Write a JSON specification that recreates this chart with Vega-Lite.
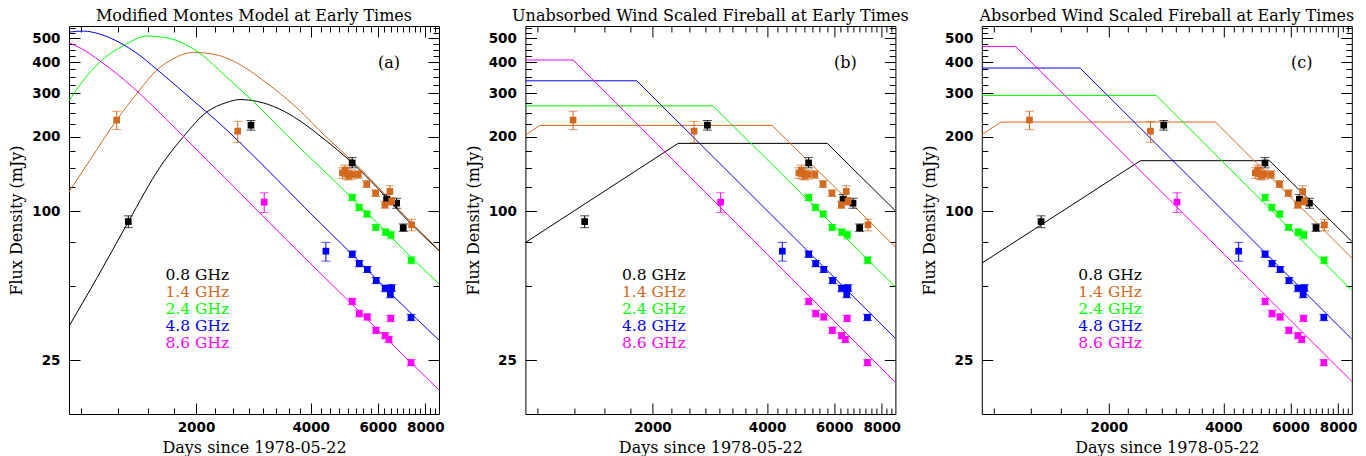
{
"$schema": "https://vega.github.io/schema/vega-lite/v6.json",
"background": "white",
"padding": {"left": 8, "top": 8, "right": 5, "bottom": 0},
"config": {
 "view": {"stroke": null},
 "axis": {"grid": false, "domainColor": "#000", "domainWidth": 1, "tickColor": "#000", "tickWidth": 1, "labelColor": "#000", "labelFont": "DejaVu Sans", "labelFontSize": 13.5, "labelFontWeight": "bold", "titleColor": "#000", "titleFont": "DejaVu Serif", "titleFontSize": 16, "titleFontWeight": "normal", "labelOverlap": false, "labelFlush": false},
 "title": {"font": "DejaVu Serif", "fontSize": 16, "fontWeight": "normal", "color": "#000", "offset": -3, "anchor": "middle"}
},
"datasets": {
 "models": [
  {"model":"a","freq":"0.8 GHz","day":928,"flux":34.4},{"model":"a","freq":"0.8 GHz","day":1100,"flux":54},{"model":"a","freq":"0.8 GHz","day":1328,"flux":90.8},{"model":"a","freq":"0.8 GHz","day":1609,"flux":151},{"model":"a","freq":"0.8 GHz","day":1851,"flux":200},{"model":"a","freq":"0.8 GHz","day":2134,"flux":252},{"model":"a","freq":"0.8 GHz","day":2400,"flux":275},{"model":"a","freq":"0.8 GHz","day":2609,"flux":283},{"model":"a","freq":"0.8 GHz","day":2900,"flux":278},{"model":"a","freq":"0.8 GHz","day":3300,"flux":260},{"model":"a","freq":"0.8 GHz","day":3751,"flux":232},{"model":"a","freq":"0.8 GHz","day":4300,"flux":198},{"model":"a","freq":"0.8 GHz","day":5144,"flux":157},{"model":"a","freq":"0.8 GHz","day":6000,"flux":124},{"model":"a","freq":"0.8 GHz","day":7000,"flux":96},{"model":"a","freq":"0.8 GHz","day":8690,"flux":69.5},
  {"model":"a","freq":"1.4 GHz","day":928,"flux":120},{"model":"a","freq":"1.4 GHz","day":1050,"flux":160},{"model":"a","freq":"1.4 GHz","day":1238,"flux":234},{"model":"a","freq":"1.4 GHz","day":1400,"flux":300},{"model":"a","freq":"1.4 GHz","day":1577,"flux":372},{"model":"a","freq":"1.4 GHz","day":1750,"flux":415},{"model":"a","freq":"1.4 GHz","day":1968,"flux":439},{"model":"a","freq":"1.4 GHz","day":2250,"flux":430},{"model":"a","freq":"1.4 GHz","day":2506,"flux":405},{"model":"a","freq":"1.4 GHz","day":3066,"flux":330},{"model":"a","freq":"1.4 GHz","day":3751,"flux":255},{"model":"a","freq":"1.4 GHz","day":4360,"flux":202},{"model":"a","freq":"1.4 GHz","day":5144,"flux":160},{"model":"a","freq":"1.4 GHz","day":6000,"flux":126},{"model":"a","freq":"1.4 GHz","day":7000,"flux":97.5},{"model":"a","freq":"1.4 GHz","day":8690,"flux":70},
  {"model":"a","freq":"2.4 GHz","day":928,"flux":279},{"model":"a","freq":"2.4 GHz","day":1000,"flux":330},{"model":"a","freq":"2.4 GHz","day":1120,"flux":402},{"model":"a","freq":"2.4 GHz","day":1300,"flux":470},{"model":"a","freq":"2.4 GHz","day":1485,"flux":511},{"model":"a","freq":"2.4 GHz","day":1700,"flux":500},{"model":"a","freq":"2.4 GHz","day":2049,"flux":435},{"model":"a","freq":"2.4 GHz","day":2400,"flux":350},{"model":"a","freq":"2.4 GHz","day":2800,"flux":282},{"model":"a","freq":"2.4 GHz","day":3500,"flux":200},{"model":"a","freq":"2.4 GHz","day":4500,"flux":138},{"model":"a","freq":"2.4 GHz","day":5144,"flux":113},{"model":"a","freq":"2.4 GHz","day":6000,"flux":89.5},{"model":"a","freq":"2.4 GHz","day":7000,"flux":70.3},{"model":"a","freq":"2.4 GHz","day":8690,"flux":51},
  {"model":"a","freq":"4.8 GHz","day":928,"flux":530},{"model":"a","freq":"4.8 GHz","day":1012,"flux":535},{"model":"a","freq":"4.8 GHz","day":1120,"flux":520},{"model":"a","freq":"4.8 GHz","day":1263,"flux":480},{"model":"a","freq":"4.8 GHz","day":1400,"flux":435},{"model":"a","freq":"4.8 GHz","day":1577,"flux":375},{"model":"a","freq":"4.8 GHz","day":1968,"flux":280},{"model":"a","freq":"4.8 GHz","day":2311,"flux":226},{"model":"a","freq":"4.8 GHz","day":2944,"flux":158},{"model":"a","freq":"4.8 GHz","day":4000,"flux":98},{"model":"a","freq":"4.8 GHz","day":5144,"flux":67},{"model":"a","freq":"4.8 GHz","day":6500,"flux":46.5},{"model":"a","freq":"4.8 GHz","day":8690,"flux":30.2},
  {"model":"a","freq":"8.6 GHz","day":928,"flux":480},{"model":"a","freq":"8.6 GHz","day":1000,"flux":455},{"model":"a","freq":"8.6 GHz","day":1120,"flux":405},{"model":"a","freq":"8.6 GHz","day":1369,"flux":316},{"model":"a","freq":"8.6 GHz","day":1675,"flux":235},{"model":"a","freq":"8.6 GHz","day":2049,"flux":172},{"model":"a","freq":"8.6 GHz","day":2500,"flux":127},{"model":"a","freq":"8.6 GHz","day":2932,"flux":99},{"model":"a","freq":"8.6 GHz","day":4000,"flux":61.5},{"model":"a","freq":"8.6 GHz","day":5500,"flux":38},{"model":"a","freq":"8.6 GHz","day":7000,"flux":26.3},{"model":"a","freq":"8.6 GHz","day":8690,"flux":19},
  {"model":"b","freq":"0.8 GHz","day":928,"flux":74.9},{"model":"b","freq":"0.8 GHz","day":2336,"flux":188.3},{"model":"b","freq":"0.8 GHz","day":5756,"flux":188.3},{"model":"b","freq":"0.8 GHz","day":8690,"flux":100.6},
  {"model":"b","freq":"1.4 GHz","day":928,"flux":203.3},{"model":"b","freq":"1.4 GHz","day":1013,"flux":222.6},{"model":"b","freq":"1.4 GHz","day":4121,"flux":222.6},{"model":"b","freq":"1.4 GHz","day":8690,"flux":71.9},
  {"model":"b","freq":"2.4 GHz","day":928,"flux":267},{"model":"b","freq":"2.4 GHz","day":2884,"flux":267},{"model":"b","freq":"2.4 GHz","day":8690,"flux":49.6},
  {"model":"b","freq":"4.8 GHz","day":928,"flux":337},{"model":"b","freq":"4.8 GHz","day":1820,"flux":337},{"model":"b","freq":"4.8 GHz","day":8690,"flux":30.7},
  {"model":"b","freq":"8.6 GHz","day":928,"flux":409},{"model":"b","freq":"8.6 GHz","day":1238,"flux":409},{"model":"b","freq":"8.6 GHz","day":8690,"flux":20.4},
  {"model":"c","freq":"0.8 GHz","day":928,"flux":61.8},{"model":"c","freq":"0.8 GHz","day":2421,"flux":160.3},{"model":"c","freq":"0.8 GHz","day":5283,"flux":160.3},{"model":"c","freq":"0.8 GHz","day":8690,"flux":75.7},
  {"model":"c","freq":"1.4 GHz","day":928,"flux":204.1},{"model":"c","freq":"1.4 GHz","day":1043,"flux":229.6},{"model":"c","freq":"1.4 GHz","day":3811,"flux":229.6},{"model":"c","freq":"1.4 GHz","day":8690,"flux":64.8},
  {"model":"c","freq":"2.4 GHz","day":928,"flux":294.2},{"model":"c","freq":"2.4 GHz","day":2662,"flux":294.2},{"model":"c","freq":"2.4 GHz","day":8690,"flux":48},
  {"model":"c","freq":"4.8 GHz","day":928,"flux":379.4},{"model":"c","freq":"4.8 GHz","day":1682,"flux":379.4},{"model":"c","freq":"4.8 GHz","day":8690,"flux":30.5},
  {"model":"c","freq":"8.6 GHz","day":928,"flux":464},{"model":"c","freq":"8.6 GHz","day":1138,"flux":464},{"model":"c","freq":"8.6 GHz","day":8690,"flux":20.6}
 ],
 "obs": [
  {"freq":"0.8 GHz","day":1328,"flux":91,"lo":86,"hi":96},{"freq":"0.8 GHz","day":2788,"flux":223,"lo":213,"hi":233},{"freq":"0.8 GHz","day":5142,"flux":157,"lo":150,"hi":165},{"freq":"0.8 GHz","day":6330,"flux":112,"lo":107,"hi":117},{"freq":"0.8 GHz","day":6726,"flux":108,"lo":103,"hi":113},{"freq":"0.8 GHz","day":7000,"flux":86,"lo":83,"hi":89},
  {"freq":"1.4 GHz","day":1238,"flux":234,"lo":214,"hi":254},{"freq":"1.4 GHz","day":2573,"flux":211,"lo":190,"hi":231},{"freq":"1.4 GHz","day":4850,"flux":143,"lo":136,"hi":150},{"freq":"1.4 GHz","day":4921,"flux":147,"lo":140,"hi":154},{"freq":"1.4 GHz","day":4972,"flux":142,"lo":135,"hi":149},{"freq":"1.4 GHz","day":5023,"flux":140,"lo":134,"hi":146},{"freq":"1.4 GHz","day":5124,"flux":141,"lo":135,"hi":147},{"freq":"1.4 GHz","day":5336,"flux":141,"lo":136,"hi":146},{"freq":"1.4 GHz","day":5611,"flux":129,"lo":125,"hi":133},{"freq":"1.4 GHz","day":5923,"flux":118.6,"lo":115,"hi":122},{"freq":"1.4 GHz","day":6268,"flux":106.4,"lo":103,"hi":110},{"freq":"1.4 GHz","day":6457,"flux":120.4,"lo":114,"hi":127},{"freq":"1.4 GHz","day":6527,"flux":109.7,"lo":106,"hi":113.5},{"freq":"1.4 GHz","day":7364,"flux":88.3,"lo":83.5,"hi":93},
  {"freq":"2.4 GHz","day":5144,"flux":113.9,"lo":110.5,"hi":117.3},{"freq":"2.4 GHz","day":5360,"flux":103.8,"lo":100.7,"hi":106.9},{"freq":"2.4 GHz","day":5620,"flux":97.6,"lo":94.9,"hi":100.3},{"freq":"2.4 GHz","day":5930,"flux":86.2,"lo":83.8,"hi":88.6},{"freq":"2.4 GHz","day":6290,"flux":82.5,"lo":80,"hi":85},{"freq":"2.4 GHz","day":6500,"flux":80.4,"lo":77.5,"hi":83.3},{"freq":"2.4 GHz","day":7350,"flux":63.5,"lo":61.5,"hi":65.5},
  {"freq":"4.8 GHz","day":4386,"flux":69.1,"lo":63,"hi":75},{"freq":"4.8 GHz","day":5144,"flux":67.2,"lo":65.2,"hi":69.2},{"freq":"4.8 GHz","day":5366,"flux":61.6,"lo":59.8,"hi":63.4},{"freq":"4.8 GHz","day":5634,"flux":58.3,"lo":56.7,"hi":59.9},{"freq":"4.8 GHz","day":5945,"flux":52.6,"lo":51.1,"hi":54.1},{"freq":"4.8 GHz","day":6276,"flux":48.9,"lo":47.4,"hi":50.4},{"freq":"4.8 GHz","day":6525,"flux":49.1,"lo":47.6,"hi":50.6},{"freq":"4.8 GHz","day":6475,"flux":46.2,"lo":44.8,"hi":47.6},{"freq":"4.8 GHz","day":7338,"flux":37.3,"lo":36.2,"hi":38.4},
  {"freq":"8.6 GHz","day":3021,"flux":109,"lo":99,"hi":119},{"freq":"8.6 GHz","day":5144,"flux":43.3,"lo":42,"hi":44.6},{"freq":"8.6 GHz","day":5366,"flux":38.7,"lo":37.5,"hi":39.9},{"freq":"8.6 GHz","day":5634,"flux":37.5,"lo":36.4,"hi":38.6},{"freq":"8.6 GHz","day":5937,"flux":33.1,"lo":32.1,"hi":34.1},{"freq":"8.6 GHz","day":6276,"flux":31.5,"lo":30.6,"hi":32.4},{"freq":"8.6 GHz","day":6420,"flux":30.4,"lo":29.5,"hi":31.3},{"freq":"8.6 GHz","day":6490,"flux":37,"lo":35.9,"hi":38.1},{"freq":"8.6 GHz","day":7338,"flux":24.5,"lo":23.8,"hi":25.2}
 ]
},
"spacing": 86.4,
"bounds": "flush",
"resolve": {"scale": {"color": "shared"}, "legend": {"color": "independent"}},
"hconcat": [
 {
  "width": 370, "height": 388,
  "title": {"text": "Modified Montes Model at Early Times"},
  "resolve": {"axis": {"x": "independent", "y": "independent"}},
  "layer": [
   {"data": {"name": "models"}, "transform": [{"filter": "datum.model == 'a'"}],
    "mark": {"type": "line", "strokeWidth": 1, "interpolate": "monotone", "clip": true},
    "encoding": {
     "x": {"field": "day", "type": "quantitative", "scale": {"type": "log", "domain": [928, 8690], "nice": false},
       "axis": {"orient": "top", "labels": false, "title": null, "values": [1000,1250,1500,1750,2000,2250,2500,2750,3000,3250,3500,3750,4000,4250,4500,4750,5000,5250,5500,5750,6000,6250,6500,6750,7000,7250,7500,7750,8000,8250,8500], "tickSize": {"condition": {"test": "indexof([2000,4000,6000,8000], datum.value) >= 0", "value": -11}, "value": -6}}},
     "y": {"field": "flux", "type": "quantitative", "scale": {"type": "log", "domain": [15.2, 561], "nice": false},
       "axis": {"orient": "right", "labels": false, "title": null, "values": [25,50,75,100,125,150,175,200,225,250,275,300,325,350,375,400,425,450,475,500,525,550], "tickSize": {"condition": {"test": "indexof([25,100,200,300,400,500], datum.value) >= 0", "value": -11}, "value": -6}}},
     "color": {"field": "freq", "type": "nominal", "scale": {"domain": ["0.8 GHz","1.4 GHz","2.4 GHz","4.8 GHz","8.6 GHz"], "range": ["#000000","#d2691e","#00ff00","#0000ff","#ff00ff"]},
       "legend": {"orient": "none", "legendX": 81, "legendY": 241, "title": null, "symbolSize": 0, "symbolOpacity": 0, "symbolStrokeWidth": 0, "labelFont": "DejaVu Serif", "labelFontSize": 15.5, "labelOffset": 0, "rowPadding": 0.1, "padding": 0, "labelLimit": 300, "encode": {"labels": {"update": {"fill": {"scale": "color", "field": "value"}}}}}}
    }},
   {"data": {"name": "obs"},
    "mark": {"type": "errorbar", "ticks": {"size": 9}, "thickness": 1},
    "encoding": {
     "x": {"field": "day", "type": "quantitative", "scale": {"type": "log", "domain": [928, 8690], "nice": false}, "axis": null},
     "y": {"field": "lo", "type": "quantitative", "scale": {"type": "log", "domain": [15.2, 561], "nice": false}, "axis": null},
     "y2": {"field": "hi"},
     "color": {"field": "freq", "type": "nominal", "legend": null}
    }},
   {"data": {"name": "obs"},
    "mark": {"type": "square", "size": 45, "opacity": 1, "filled": true},
    "encoding": {
     "x": {"field": "day", "type": "quantitative", "scale": {"type": "log", "domain": [928, 8690], "nice": false},
       "axis": {"orient": "bottom", "title": "Days since 1978-05-22", "titlePadding": 0.5, "labelPadding": 17.5, "values": [1000,1250,1500,1750,2000,2250,2500,2750,3000,3250,3500,3750,4000,4250,4500,4750,5000,5250,5500,5750,6000,6250,6500,6750,7000,7250,7500,7750,8000,8250,8500], "labelExpr": "indexof([2000,4000,6000,8000], datum.value) >= 0 ? format(datum.value, 'd') : ''", "tickSize": {"condition": {"test": "indexof([2000,4000,6000,8000], datum.value) >= 0", "value": -11}, "value": -6}}},
     "y": {"field": "flux", "type": "quantitative", "scale": {"type": "log", "domain": [15.2, 561], "nice": false},
       "axis": {"orient": "left", "title": "Flux Density (mJy)", "titlePadding": 7, "labelPadding": 20, "values": [25,50,75,100,125,150,175,200,225,250,275,300,325,350,375,400,425,450,475,500,525,550], "labelExpr": "indexof([25,100,200,300,400,500], datum.value) >= 0 ? format(datum.value, 'd') : ''", "tickSize": {"condition": {"test": "indexof([25,100,200,300,400,500], datum.value) >= 0", "value": -11}, "value": -6}}},
     "color": {"field": "freq", "type": "nominal", "legend": null}
    }},
   {"data": {"values": [{"t": "(a)"}]},
    "mark": {"type": "text", "font": "DejaVu Serif", "fontSize": 16, "color": "#000"},
    "encoding": {
     "x": {"datum": 6420, "type": "quantitative", "scale": {"type": "log", "domain": [928, 8690], "nice": false}, "axis": null},
     "y": {"datum": 397, "type": "quantitative", "scale": {"type": "log", "domain": [15.2, 561], "nice": false}, "axis": null},
     "text": {"field": "t"}
    }}
  ]
 },
 {
  "width": 370, "height": 388,
  "title": {"text": "Unabsorbed Wind Scaled Fireball at Early Times"},
  "resolve": {"axis": {"x": "independent", "y": "independent"}},
  "layer": [
   {"data": {"name": "models"}, "transform": [{"filter": "datum.model == 'b'"}],
    "mark": {"type": "line", "strokeWidth": 1, "clip": true},
    "encoding": {
     "x": {"field": "day", "type": "quantitative", "scale": {"type": "log", "domain": [928, 8690], "nice": false},
       "axis": {"orient": "top", "labels": false, "title": null, "values": [1000,1250,1500,1750,2000,2250,2500,2750,3000,3250,3500,3750,4000,4250,4500,4750,5000,5250,5500,5750,6000,6250,6500,6750,7000,7250,7500,7750,8000,8250,8500], "tickSize": {"condition": {"test": "indexof([2000,4000,6000,8000], datum.value) >= 0", "value": -11}, "value": -6}}},
     "y": {"field": "flux", "type": "quantitative", "scale": {"type": "log", "domain": [15.2, 561], "nice": false},
       "axis": {"orient": "right", "labels": false, "title": null, "values": [25,50,75,100,125,150,175,200,225,250,275,300,325,350,375,400,425,450,475,500,525,550], "tickSize": {"condition": {"test": "indexof([25,100,200,300,400,500], datum.value) >= 0", "value": -11}, "value": -6}}},
     "color": {"field": "freq", "type": "nominal",
       "legend": {"orient": "none", "legendX": 81, "legendY": 241, "title": null, "symbolSize": 0, "symbolOpacity": 0, "symbolStrokeWidth": 0, "labelFont": "DejaVu Serif", "labelFontSize": 15.5, "labelOffset": 0, "rowPadding": 0.1, "padding": 0, "labelLimit": 300, "encode": {"labels": {"update": {"fill": {"scale": "color", "field": "value"}}}}}}
    }},
   {"data": {"name": "obs"},
    "mark": {"type": "errorbar", "ticks": {"size": 9}, "thickness": 1},
    "encoding": {
     "x": {"field": "day", "type": "quantitative", "scale": {"type": "log", "domain": [928, 8690], "nice": false}, "axis": null},
     "y": {"field": "lo", "type": "quantitative", "scale": {"type": "log", "domain": [15.2, 561], "nice": false}, "axis": null},
     "y2": {"field": "hi"},
     "color": {"field": "freq", "type": "nominal", "legend": null}
    }},
   {"data": {"name": "obs"},
    "mark": {"type": "square", "size": 45, "opacity": 1, "filled": true},
    "encoding": {
     "x": {"field": "day", "type": "quantitative", "scale": {"type": "log", "domain": [928, 8690], "nice": false},
       "axis": {"orient": "bottom", "title": "Days since 1978-05-22", "titlePadding": 0.5, "labelPadding": 17.5, "values": [1000,1250,1500,1750,2000,2250,2500,2750,3000,3250,3500,3750,4000,4250,4500,4750,5000,5250,5500,5750,6000,6250,6500,6750,7000,7250,7500,7750,8000,8250,8500], "labelExpr": "indexof([2000,4000,6000,8000], datum.value) >= 0 ? format(datum.value, 'd') : ''", "tickSize": {"condition": {"test": "indexof([2000,4000,6000,8000], datum.value) >= 0", "value": -11}, "value": -6}}},
     "y": {"field": "flux", "type": "quantitative", "scale": {"type": "log", "domain": [15.2, 561], "nice": false},
       "axis": {"orient": "left", "title": "Flux Density (mJy)", "titlePadding": 7, "labelPadding": 20, "values": [25,50,75,100,125,150,175,200,225,250,275,300,325,350,375,400,425,450,475,500,525,550], "labelExpr": "indexof([25,100,200,300,400,500], datum.value) >= 0 ? format(datum.value, 'd') : ''", "tickSize": {"condition": {"test": "indexof([25,100,200,300,400,500], datum.value) >= 0", "value": -11}, "value": -6}}},
     "color": {"field": "freq", "type": "nominal", "legend": null}
    }},
   {"data": {"values": [{"t": "(b)"}]},
    "mark": {"type": "text", "font": "DejaVu Serif", "fontSize": 16, "color": "#000"},
    "encoding": {
     "x": {"datum": 6420, "type": "quantitative", "scale": {"type": "log", "domain": [928, 8690], "nice": false}, "axis": null},
     "y": {"datum": 397, "type": "quantitative", "scale": {"type": "log", "domain": [15.2, 561], "nice": false}, "axis": null},
     "text": {"field": "t"}
    }}
  ]
 },
 {
  "width": 370, "height": 388,
  "title": {"text": "Absorbed Wind Scaled Fireball at Early Times"},
  "resolve": {"axis": {"x": "independent", "y": "independent"}},
  "layer": [
   {"data": {"name": "models"}, "transform": [{"filter": "datum.model == 'c'"}],
    "mark": {"type": "line", "strokeWidth": 1, "clip": true},
    "encoding": {
     "x": {"field": "day", "type": "quantitative", "scale": {"type": "log", "domain": [928, 8690], "nice": false},
       "axis": {"orient": "top", "labels": false, "title": null, "values": [1000,1250,1500,1750,2000,2250,2500,2750,3000,3250,3500,3750,4000,4250,4500,4750,5000,5250,5500,5750,6000,6250,6500,6750,7000,7250,7500,7750,8000,8250,8500], "tickSize": {"condition": {"test": "indexof([2000,4000,6000,8000], datum.value) >= 0", "value": -11}, "value": -6}}},
     "y": {"field": "flux", "type": "quantitative", "scale": {"type": "log", "domain": [15.2, 561], "nice": false},
       "axis": {"orient": "right", "labels": false, "title": null, "values": [25,50,75,100,125,150,175,200,225,250,275,300,325,350,375,400,425,450,475,500,525,550], "tickSize": {"condition": {"test": "indexof([25,100,200,300,400,500], datum.value) >= 0", "value": -11}, "value": -6}}},
     "color": {"field": "freq", "type": "nominal",
       "legend": {"orient": "none", "legendX": 81, "legendY": 241, "title": null, "symbolSize": 0, "symbolOpacity": 0, "symbolStrokeWidth": 0, "labelFont": "DejaVu Serif", "labelFontSize": 15.5, "labelOffset": 0, "rowPadding": 0.1, "padding": 0, "labelLimit": 300, "encode": {"labels": {"update": {"fill": {"scale": "color", "field": "value"}}}}}}
    }},
   {"data": {"name": "obs"},
    "mark": {"type": "errorbar", "ticks": {"size": 9}, "thickness": 1},
    "encoding": {
     "x": {"field": "day", "type": "quantitative", "scale": {"type": "log", "domain": [928, 8690], "nice": false}, "axis": null},
     "y": {"field": "lo", "type": "quantitative", "scale": {"type": "log", "domain": [15.2, 561], "nice": false}, "axis": null},
     "y2": {"field": "hi"},
     "color": {"field": "freq", "type": "nominal", "legend": null}
    }},
   {"data": {"name": "obs"},
    "mark": {"type": "square", "size": 45, "opacity": 1, "filled": true},
    "encoding": {
     "x": {"field": "day", "type": "quantitative", "scale": {"type": "log", "domain": [928, 8690], "nice": false},
       "axis": {"orient": "bottom", "title": "Days since 1978-05-22", "titlePadding": 0.5, "labelPadding": 17.5, "values": [1000,1250,1500,1750,2000,2250,2500,2750,3000,3250,3500,3750,4000,4250,4500,4750,5000,5250,5500,5750,6000,6250,6500,6750,7000,7250,7500,7750,8000,8250,8500], "labelExpr": "indexof([2000,4000,6000,8000], datum.value) >= 0 ? format(datum.value, 'd') : ''", "tickSize": {"condition": {"test": "indexof([2000,4000,6000,8000], datum.value) >= 0", "value": -11}, "value": -6}}},
     "y": {"field": "flux", "type": "quantitative", "scale": {"type": "log", "domain": [15.2, 561], "nice": false},
       "axis": {"orient": "left", "title": "Flux Density (mJy)", "titlePadding": 7, "labelPadding": 20, "values": [25,50,75,100,125,150,175,200,225,250,275,300,325,350,375,400,425,450,475,500,525,550], "labelExpr": "indexof([25,100,200,300,400,500], datum.value) >= 0 ? format(datum.value, 'd') : ''", "tickSize": {"condition": {"test": "indexof([25,100,200,300,400,500], datum.value) >= 0", "value": -11}, "value": -6}}},
     "color": {"field": "freq", "type": "nominal", "legend": null}
    }},
   {"data": {"values": [{"t": "(c)"}]},
    "mark": {"type": "text", "font": "DejaVu Serif", "fontSize": 16, "color": "#000"},
    "encoding": {
     "x": {"datum": 6420, "type": "quantitative", "scale": {"type": "log", "domain": [928, 8690], "nice": false}, "axis": null},
     "y": {"datum": 397, "type": "quantitative", "scale": {"type": "log", "domain": [15.2, 561], "nice": false}, "axis": null},
     "text": {"field": "t"}
    }}
  ]
 }
]
}
